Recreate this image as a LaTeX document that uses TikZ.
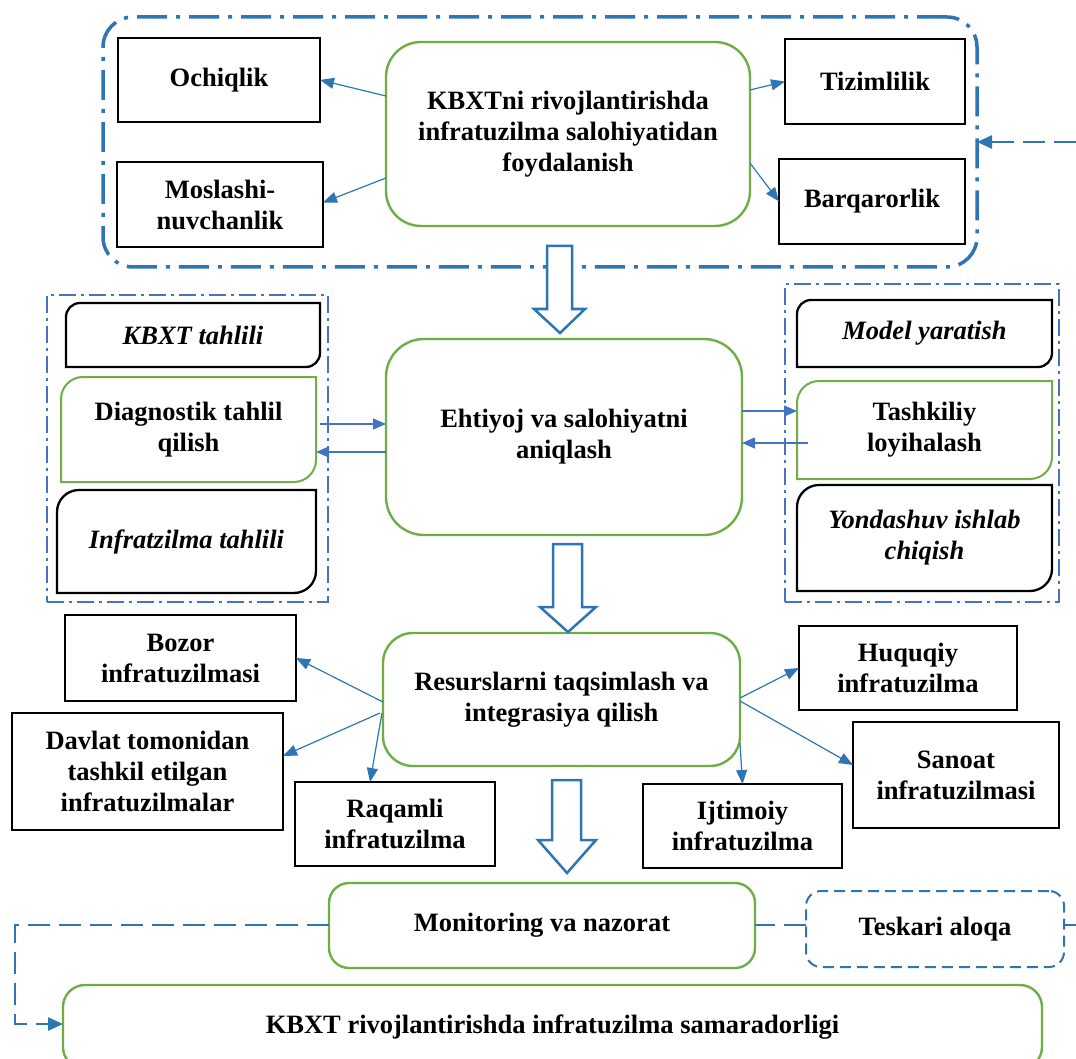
\documentclass[tikz,border=0pt]{standalone}
\usepackage{fontspec}
\setmainfont{Liberation Serif}
\usetikzlibrary{arrows.meta}
\definecolor{gr}{HTML}{70AD47}
\definecolor{bl}{HTML}{2E75B6}
\definecolor{blb}{HTML}{4472C4}
% outline with rounded top-left and bottom-right corners
\newcommand\rdbox[3]{\draw[#3] (#1.south west) -- ([yshift=-#2]#1.north west) arc[start angle=180,end angle=90,radius=#2] -- (#1.north east) -- ([yshift=#2]#1.south east) arc[start angle=0,end angle=-90,radius=#2] -- cycle;}
\tikzset{
  txt/.style={font=\fontsize{26.5}{31}\selectfont\bfseries, align=center, inner sep=0pt, outer sep=0pt},
  blackbox/.style={txt, draw=black, line width=2.6pt},
  greenbox/.style={txt, draw=gr, line width=2.4pt, rounded corners=#1},
  greenbox/.default=30pt,
  plainbox/.style={txt, draw=none},
  rdblack/.style={draw=black, line width=2.3pt},
  rdgreen/.style={draw=gr, line width=2pt},
  conn/.style={draw=bl, line width=1.2pt, -{Triangle[length=14pt,width=11pt]}},
  connb/.style={draw=blb, line width=1.2pt, -{Triangle[length=13pt,width=11pt]}},
  tgrp/.style={draw=bl, line width=3.5pt, rounded corners=30pt, dash pattern=on 30pt off 9pt on 4pt off 9pt, inner sep=0pt, outer sep=0pt},
  mgrp/.style={draw=blb, line width=2pt, dash pattern=on 17pt off 5pt on 3pt off 5pt, inner sep=0pt, outer sep=0pt},
  fb/.style={draw=bl, line width=2.5pt, dash pattern=on 22pt off 9pt},
  fbarrow/.style={fb, -{Triangle[length=15pt,width=13pt]}},
  barrow/.style={draw=bl, line width=2.5pt, fill=white, line join=miter},
  tesk/.style={txt, draw=bl, line width=2pt, rounded corners=15pt, dash pattern=on 11pt off 6pt},
}
\begin{document}
\begin{tikzpicture}[x=1pt,y=1pt]
\useasboundingbox (0,0) rectangle (1076,-1059);
\clip (0,0) rectangle (1076,-1059);

% ---- groups
\node[tgrp, minimum width=874pt, minimum height=250pt] (tg) at (540,-142) {};
\node[mgrp, minimum width=281pt, minimum height=307pt] (lg) at (187.5,-448.5) {};
\node[mgrp, minimum width=274pt, minimum height=318pt] (rg) at (922,-443) {};

% ---- top level
\node[blackbox, minimum width=202pt, minimum height=84pt] (ochiq) at (219,-80) {Ochiqlik};
\node[blackbox, minimum width=206pt, minimum height=85pt] (mosl) at (220,-204.5) {Moslashi-\\nuvchanlik};
\node[greenbox=35pt, minimum width=364pt, minimum height=184pt] (kbxt) at (568,-134) {KBXTni rivojlantirishda\\infratuzilma salohiyatidan\\foydalanish};
\node[blackbox, minimum width=180pt, minimum height=85pt] (tizim) at (875,-81.5) {Tizimlilik};
\node[blackbox, minimum width=186pt, minimum height=85pt] (barq) at (872,-201.5) {Barqarorlik};

\draw[conn] ([yshift=38pt]kbxt.west) -- (ochiq.east);
\draw[conn] ([yshift=-44pt]kbxt.west) -- ([yshift=2pt]mosl.east);
\draw[conn] ([yshift=44pt]kbxt.east) -- (tizim.west);
\draw[conn] ([yshift=-29pt]kbxt.east) -- (barq.west);

% feedback into top group
\coordinate (fbin) at (1076,-142);
\draw[fbarrow] (fbin) -- (tg.east);

% ---- middle level
\node[plainbox, minimum width=254pt, minimum height=64pt] (kt) at (193,-335) {\itshape KBXT tahlili};
\rdbox{kt}{14pt}{rdblack}
\node[plainbox, minimum width=255pt, minimum height=105pt] (diag) at (188.5,-429.5) {Diagnostik tahlil\\qilish};
\rdbox{diag}{22pt}{rdgreen}
\node[plainbox, minimum width=259pt, minimum height=103pt] (infr) at (186.5,-541.5) {\itshape Infratzilma tahlili};
\rdbox{infr}{22pt}{rdblack}

\node[greenbox=38pt, minimum width=356pt, minimum height=196pt] (eht) at (564,-437) {Ehtiyoj va salohiyatni\\aniqlash};

\node[plainbox, minimum width=255pt, minimum height=67pt] (model) at (924.5,-333.5) {\itshape Model yaratish};
\rdbox{model}{14pt}{rdblack}
\node[plainbox, minimum width=255pt, minimum height=98pt] (tash) at (924.5,-430) {Tashkiliy\\loyihalash};
\rdbox{tash}{22pt}{rdgreen}
\node[plainbox, minimum width=255pt, minimum height=106pt] (yond) at (924.5,-538) {\itshape Yondashuv ishlab\\\itshape chiqish};
\rdbox{yond}{22pt}{rdblack}

\draw[connb] ([xshift=4pt,yshift=5.5pt]diag.east) -- ([yshift=13pt]eht.west);
\draw[connb] ([yshift=-15pt]eht.west) -- ([yshift=-22.5pt]diag.east);
\draw[connb] ([yshift=26pt]eht.east) -- ([yshift=19pt]tash.west);
\draw[connb] ([xshift=11pt,yshift=-13pt]tash.west) -- ([yshift=-6pt]eht.east);

% ---- resources level
\node[greenbox=30pt, minimum width=357pt, minimum height=133pt] (res) at (561.5,-699.5) {Resurslarni taqsimlash va\\integrasiya qilish};
\node[blackbox, minimum width=231pt, minimum height=86pt] (bozor) at (180.5,-658) {Bozor\\infratuzilmasi};
\node[blackbox, minimum width=271pt, minimum height=117pt] (davlat) at (147.5,-771.5) {Davlat tomonidan\\tashkil etilgan\\infratuzilmalar};
\node[blackbox, minimum width=200pt, minimum height=84pt] (raqam) at (395,-824) {Raqamli\\infratuzilma};
\node[blackbox, minimum width=218pt, minimum height=84pt] (huquq) at (908,-668) {Huquqiy\\infratuzilma};
\node[blackbox, minimum width=206pt, minimum height=106pt] (sanoat) at (956,-775) {Sanoat\\infratuzilmasi};
\node[blackbox, minimum width=199pt, minimum height=84pt] (ijtim) at (742.5,-826) {Ijtimoiy\\infratuzilma};

\draw[conn] ([yshift=-2.5pt]res.west) -- (bozor.east);
\draw[conn] ([xshift=-3pt,yshift=-13.5pt]res.west) -- ([yshift=15.5pt]davlat.east);
\draw[conn] ([xshift=-1pt,yshift=-13.5pt]res.west) -- ([xshift=-25pt]raqam.north);
\draw[conn] ([yshift=1.5pt]res.east) -- (huquq.west);
\draw[conn] ([yshift=-1.5pt]res.east) -- ([yshift=10pt]sanoat.west);
\draw[conn] ([yshift=-43.5pt]res.east) -- (ijtim.north);

% ---- bottom level
\node[greenbox=20pt, minimum width=426pt, minimum height=85pt] (monit) at (542,-925.5) {Monitoring va nazorat};
\node[tesk, minimum width=258pt, minimum height=76pt] (tesk) at (935,-929) {Teskari aloqa};
\node[greenbox=22pt, minimum width=979pt, minimum height=84pt] (samar) at (552.5,-1027) {KBXT rivojlantirishda infratuzilma samaradorligi};

\draw[fb] ([yshift=4pt]tesk.west) -- ([yshift=0.5pt]monit.east);
\coordinate (fbout) at (1080,-925);
\draw[fb] ([yshift=4pt]tesk.east) -- (fbout);
\coordinate (lcorner) at (15,-925);
\draw[fbarrow] ([yshift=0.5pt]monit.west) -- (lcorner) |- ([yshift=3pt]samar.west);

% ---- hollow block arrows
\draw[barrow] (547,-246) -- (572,-246) -- (572,-309) -- (585,-309) -- (560,-333) -- (534,-309) -- (547,-309) -- cycle;
\draw[barrow] (553,-544) -- (582,-544) -- (582,-607) -- (596,-607) -- (568,-632) -- (540,-607) -- (553,-607) -- cycle;
\draw[barrow] (552,-780) -- (581,-780) -- (581,-840) -- (596,-840) -- (567,-873) -- (538,-840) -- (552,-840) -- cycle;
\end{tikzpicture}
\end{document}
